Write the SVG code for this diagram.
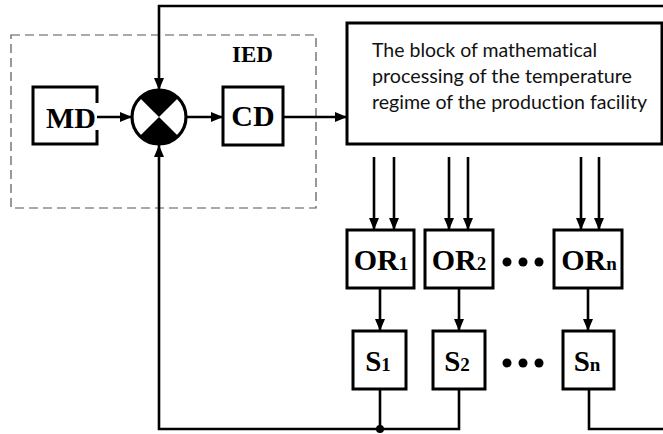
<svg xmlns="http://www.w3.org/2000/svg" width="663" height="434" viewBox="0 0 663 434">
<style>
.box{fill:#fff;stroke:#000;stroke-width:3}
.ln{fill:none;stroke:#000;stroke-width:2.6}
.arr{marker-end:url(#ah)}
.big{font-family:"Liberation Serif","Times New Roman",serif;font-weight:bold;fill:#000}
.txt{font-family:Lato,"Open Sans",sans-serif;font-size:19px;fill:#111;font-variant-ligatures:none}
.dot{fill:#000}
</style>
<defs>
<marker id="ah" viewBox="0 0 12 10" refX="12" refY="5" markerWidth="12" markerHeight="10" markerUnits="userSpaceOnUse" orient="auto">
<path d="M0,0 L12,5 L0,10 z" fill="#000"/>
</marker>
</defs>
<rect width="663" height="434" fill="#fff"/>
<g id="ied">
<rect x="11" y="35" width="305" height="173" fill="none" stroke="#555" stroke-width="1.2" stroke-dasharray="9 5"/>
<text class="big" x="252.5" y="62" font-size="23" text-anchor="middle">IED</text>
</g>
<g id="connectors">
<path class="ln arr" d="M97,117 H132"/>
<path class="ln arr" d="M186,117 H223"/>
<path class="ln arr" d="M283,117 H347"/>
<path class="ln arr" d="M663,6 H159 V90"/>
<path class="ln arr" d="M459,389 V429 H159 V145"/>
<path class="ln" d="M380,389 V429"/>
<path class="ln" d="M589,389 V429 H663"/>
<path class="ln arr" d="M374,157 V230"/>
<path class="ln arr" d="M394,157 V230"/>
<path class="ln arr" d="M449,157 V230"/>
<path class="ln arr" d="M468,157 V230"/>
<path class="ln arr" d="M581,157 V230"/>
<path class="ln arr" d="M599,157 V230"/>
<path class="ln arr" d="M380,289 V331"/>
<path class="ln arr" d="M459,289 V331"/>
<path class="ln arr" d="M588,289 V331"/>
<circle class="dot" cx="380" cy="429" r="4"/>
</g>
<g id="md">
<path d="M97,103 V87 H33 V144 H97 V130" fill="#fff" stroke="#000" stroke-width="3"/>
<text class="big" x="71" y="128" font-size="30" text-anchor="middle">MD</text>
</g>
<g id="sum">
<circle cx="159" cy="117" r="27" fill="#fff" stroke="#000" stroke-width="3.2"/>
<path d="M159,117 L139.9,97.9 A27,27 0 0 1 178.1,97.9 Z" fill="#000"/>
<path d="M159,117 L178.1,136.1 A27,27 0 0 1 139.9,136.1 Z" fill="#000"/>
</g>
<g id="cd">
<rect class="box" x="223" y="87" width="60" height="58"/>
<text class="big" x="253" y="126" font-size="30" text-anchor="middle">CD</text>
</g>
<g id="block">
<rect class="box" x="347" y="23" width="315" height="121"/>
<text class="txt" x="372" y="57" textLength="225" lengthAdjust="spacingAndGlyphs">The block of mathematical</text>
<text class="txt" x="372" y="83" textLength="260" lengthAdjust="spacingAndGlyphs">processing of the temperature</text>
<text class="txt" x="372" y="109" textLength="275" lengthAdjust="spacingAndGlyphs">regime of the production facility</text>
</g>
<g id="or1">
<rect class="box" x="347" y="230" width="67" height="58"/>
<text class="big" x="381" y="270" font-size="30" text-anchor="middle">OR<tspan font-size="19">1</tspan></text>
</g>
<g id="or2">
<rect class="box" x="425" y="230" width="68" height="58"/>
<text class="big" x="459" y="270" font-size="30" text-anchor="middle">OR<tspan font-size="19">2</tspan></text>
</g>
<g id="orn">
<rect class="box" x="554" y="230" width="68" height="58"/>
<text class="big" x="589" y="270" font-size="30" text-anchor="middle">OR<tspan font-size="19">n</tspan></text>
</g>
<g id="s1">
<rect class="box" x="353" y="331" width="53" height="58"/>
<text class="big" x="378" y="371" font-size="29" text-anchor="middle">S<tspan font-size="19">1</tspan></text>
</g>
<g id="s2">
<rect class="box" x="433" y="331" width="52" height="58"/>
<text class="big" x="457" y="371" font-size="29" text-anchor="middle">S<tspan font-size="19">2</tspan></text>
</g>
<g id="sn">
<rect class="box" x="563" y="331" width="51" height="58"/>
<text class="big" x="587" y="371" font-size="29" text-anchor="middle">S<tspan font-size="19">n</tspan></text>
</g>
<g id="ellipsis">
<circle class="dot" cx="507" cy="262" r="4.5"/>
<circle class="dot" cx="523" cy="262" r="4.5"/>
<circle class="dot" cx="539" cy="262" r="4.5"/>
<circle class="dot" cx="507" cy="363" r="4.5"/>
<circle class="dot" cx="523" cy="363" r="4.5"/>
<circle class="dot" cx="539" cy="363" r="4.5"/>
</g>
</svg>
